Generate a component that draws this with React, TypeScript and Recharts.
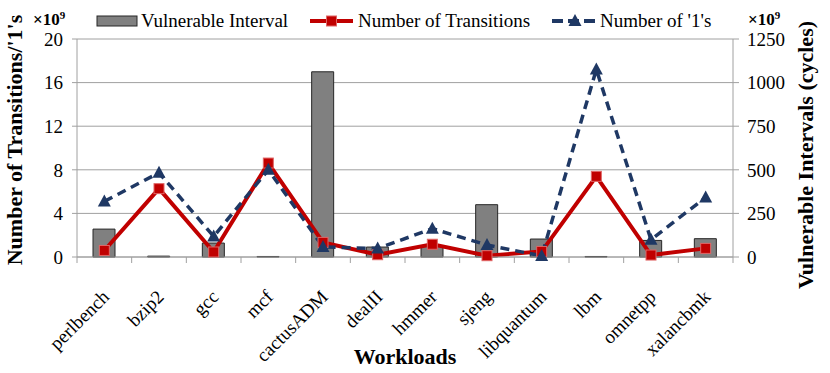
import React from 'react';
import { ComposedChart, Bar, Line, XAxis, YAxis, CartesianGrid, Legend } from 'recharts';

const FONT = '"Liberation Serif", "Times New Roman", Times, serif';

const CATEGORIES = ['perlbench', 'bzip2', 'gcc', 'mcf', 'cactusADM', 'dealII', 'hmmer', 'sjeng', 'libquantum', 'lbm', 'omnetpp', 'xalancbmk'];
// Vulnerable Interval (x10^9 cycles, right axis)
const VULNERABLE = [160, 5, 80, 3, 1062, 57, 61, 300, 103, 3, 95, 105];
// Number of Transitions (x10^9, left axis)
const TRANSITIONS = [0.6, 6.27, 0.46, 8.62, 1.34, 0.21, 1.17, 0.12, 0.51, 7.4, 0.18, 0.79];
// Number of '1's (x10^9, left axis)
const ONES = [5.1, 7.73, 1.89, 8.0, 0.92, 0.78, 2.6, 1.1, 0.1, 17.2, 1.59, 5.47];

const LEFT_TICKS = [0, 4, 8, 12, 16, 20];
const RIGHT_TICKS = [0, 250, 500, 750, 1000, 1250];

const data = CATEGORIES.map((name, i) => ({
  name,
  vulnerable: VULNERABLE[i],
  transitions: TRANSITIONS[i],
  ones: ONES[i],
}));

const AXIS = '#A0A0A0';
const RED = '#C00000';
const RED_EDGE = '#E06666';
const BLUE = '#1F3864';
const BAR_FILL = '#808080';
const BAR_EDGE = '#262626';

const HALF_BAND = (733 - 77) / CATEGORIES.length / 2;

const XTick = (props: any) => {
  const { x, y, payload, index } = props;
  const tx = x + 6;
  const ty = y + 41;
  return (
    <g>
      <line x1={x - HALF_BAND} y1={y} x2={x - HALF_BAND} y2={y + 6} stroke={AXIS} strokeWidth={1} />
      {index === CATEGORIES.length - 1 && (
        <line x1={x + HALF_BAND} y1={y} x2={x + HALF_BAND} y2={y + 6} stroke={AXIS} strokeWidth={1} />
      )}
      <text
        x={tx}
        y={ty}
        transform={`rotate(-45, ${tx}, ${ty})`}
        textAnchor="end"
        fontFamily={FONT}
        fontSize={19}
        fill="#000"
      >
        {payload.value}
      </text>
    </g>
  );
};

const SquareDot = (props: any) => {
  const { cx, cy } = props;
  if (cx == null || cy == null) return <g />;
  return <rect x={cx - 5} y={cy - 5} width={10} height={10} fill={RED} stroke={RED_EDGE} strokeWidth={1} />;
};

const TriangleDot = (props: any) => {
  const { cx, cy } = props;
  if (cx == null || cy == null) return <g />;
  return <path d={`M${cx},${cy - 7} L${cx + 6.5},${cy + 5} L${cx - 6.5},${cy + 5} Z`} fill={BLUE} />;
};

const LegendContent = () => (
  <div style={{ width: 830, height: 30, position: 'relative' }}>
    <svg width={830} height={30} style={{ position: 'absolute', left: 0, top: 0, overflow: 'visible' }}>
      <rect x={97} y={16} width={40} height={10} fill={BAR_FILL} stroke={BAR_EDGE} strokeWidth={1} />
      <text x={141} y={26.5} fontFamily={FONT} fontSize={19} fill="#000">Vulnerable Interval</text>
      <line x1={310} y1={21} x2={353} y2={21} stroke={RED} strokeWidth={4} />
      <rect x={326.5} y={16} width={10} height={10} fill={RED} stroke={RED_EDGE} strokeWidth={1} />
      <text x={358} y={26.5} fontFamily={FONT} fontSize={19} fill="#000">Number of Transitions</text>
      <line x1={552} y1={21} x2={598} y2={21} stroke={BLUE} strokeWidth={4} strokeDasharray="11 5" />
      <path d={`M575,14 L581.5,26 L568.5,26 Z`} fill={BLUE} />
      <text x={600} y={26.5} fontFamily={FONT} fontSize={19} fill="#000">Number of '1's</text>
    </svg>
  </div>
);

const leftLabel = () => (
  <g>
    <text
      transform="translate(22,140) rotate(-90)"
      textAnchor="middle"
      fontFamily={FONT}
      fontSize={22}
      fontWeight="bold"
      fill="#000"
    >
      Number of Transitions/'1's
    </text>
    <text x={33} y={25} fontFamily={FONT} fontSize={17} fontWeight="bold" fill="#000">
      ×10<tspan fontSize={11} dy={-6}>9</tspan>
    </text>
  </g>
);

const rightLabel = () => (
  <g>
    <text
      transform="translate(813,155) rotate(-90)"
      textAnchor="middle"
      fontFamily={FONT}
      fontSize={22}
      fontWeight="bold"
      fill="#000"
    >
      Vulnerable Intervals (cycles)
    </text>
    <text x={748} y={25} fontFamily={FONT} fontSize={17} fontWeight="bold" fill="#000">
      ×10<tspan fontSize={11} dy={-6}>9</tspan>
    </text>
  </g>
);

const xLabel = () => (
  <text x={405} y={364} textAnchor="middle" fontFamily={FONT} fontSize={22} fontWeight="bold" fill="#000">
    Workloads
  </text>
);

export default function App() {
  return (
    <div style={{ position: 'absolute', left: 0, top: 0, width: 830, height: 373, background: '#fff' }}>
      <ComposedChart
        width={830}
        height={373}
        data={data}
        margin={{ top: 9, right: 0, bottom: 0, left: 0 }}
        barCategoryGap={0}
      >
        <CartesianGrid yAxisId="left" vertical={false} stroke={AXIS} strokeWidth={1} />
        <XAxis
          dataKey="name"
          height={116}
          axisLine={{ stroke: AXIS }}
          tickLine={false}
          tickSize={0}
          tickMargin={0}
          interval={0}
          tick={<XTick />}
          label={{ content: xLabel }}
        />
        <YAxis
          yAxisId="left"
          orientation="left"
          width={77}
          domain={[0, 20]}
          ticks={LEFT_TICKS}
          interval={0}
          axisLine={{ stroke: AXIS }}
          tickLine={{ stroke: AXIS }}
          tickSize={5}
          tickMargin={9}
          tick={{ fontFamily: FONT, fontSize: 19, fill: '#000' }}
          label={{ content: leftLabel }}
        />
        <YAxis
          yAxisId="right"
          orientation="right"
          width={97}
          domain={[0, 1250]}
          ticks={RIGHT_TICKS}
          interval={0}
          axisLine={{ stroke: AXIS }}
          tickLine={{ stroke: AXIS }}
          tickSize={6}
          tickMargin={8}
          tick={{ fontFamily: FONT, fontSize: 19, fill: '#000' }}
          label={{ content: rightLabel }}
        />
        <Legend
          verticalAlign="top"
          align="left"
          content={<LegendContent />}
          wrapperStyle={{ top: 0, left: 0, width: 830, height: 30 }}
        />
        <Bar
          yAxisId="right"
          dataKey="vulnerable"
          name="Vulnerable Interval"
          barSize={22}
          fill={BAR_FILL}
          stroke={BAR_EDGE}
          strokeWidth={1}
          isAnimationActive={false}
        />
        <Line
          yAxisId="left"
          dataKey="transitions"
          name="Number of Transitions"
          stroke={RED}
          strokeWidth={4}
          dot={<SquareDot />}
          activeDot={false}
          isAnimationActive={false}
        />
        <Line
          yAxisId="left"
          dataKey="ones"
          name="Number of '1's"
          stroke={BLUE}
          strokeWidth={3.5}
          strokeDasharray="9 6"
          dot={<TriangleDot />}
          activeDot={false}
          isAnimationActive={false}
        />
      </ComposedChart>
    </div>
  );
}
